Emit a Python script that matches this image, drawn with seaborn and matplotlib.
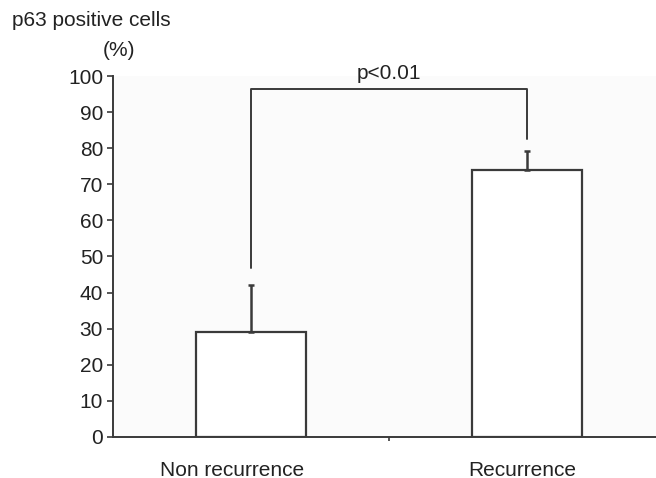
import matplotlib
matplotlib.use("Agg")
import matplotlib.pyplot as plt
import matplotlib.transforms as mtransforms
import seaborn as sns
import pandas as pd

groups = ["Non recurrence", "Recurrence"]
means = [29, 74]
sd_up = [13.2, 5.3]
bracket_top = 96.4
bracket_leg_ends = [46.9, 82.5]
p_text = "p<0.01"

sns.set_style("ticks")
plt.rcParams["font.family"] = ["Liberation Sans", "DejaVu Sans"]

df = pd.DataFrame({"group": groups, "pct": means})
line_col = "#3a3a3a"
fs = 15

fig = plt.figure(figsize=(6.56, 4.78), dpi=100)
ax = fig.add_axes([0.172, 0.086, 0.842, 0.755])
ax.set_facecolor("#fbfbfb")

sns.barplot(data=df, x="group", y="pct", color="white", edgecolor=line_col,
            linewidth=1.6, width=0.4, errorbar=None, ax=ax)
ax.errorbar(range(len(groups)), means, yerr=[[0] * len(groups), sd_up],
            fmt="none", ecolor=line_col, elinewidth=1.8, capsize=2.5, capthick=1.8)

# significance bracket
ax.plot([0, 0, 1, 1], [bracket_leg_ends[0], bracket_top, bracket_top, bracket_leg_ends[1]],
        color=line_col, lw=1.4)
ax.text(0.5, bracket_top + 1.6, p_text, ha="center", va="bottom", fontsize=fs, color="#222222")

ax.set_ylim(0, 100)
ax.set_xlim(-0.5, 1.5)
ax.set_yticks(range(0, 101, 10))
ax.tick_params(axis="y", labelsize=fs, length=4, width=1.2, color=line_col, pad=3,
               labelcolor="#222222")
ax.tick_params(axis="x", labelsize=fs, length=0, pad=17, labelcolor="#222222")
ax.set_xticks([0.5], minor=True)
ax.tick_params(axis="x", which="minor", length=3, width=1.2, color=line_col, direction="out")
ax.set_xlabel("")
ax.set_ylabel("")

# first category label sits a bit left of its bar
off = mtransforms.ScaledTranslation(-19 / 100, 0, fig.dpi_scale_trans)
lab0 = ax.get_xticklabels()[0]
lab0.set_transform(lab0.get_transform() + off)
off1 = mtransforms.ScaledTranslation(-5 / 100, 0, fig.dpi_scale_trans)
lab1 = ax.get_xticklabels()[1]
lab1.set_transform(lab1.get_transform() + off1)

sns.despine(ax=ax, top=True, right=True)
for s in ["left", "bottom"]:
    ax.spines[s].set_color(line_col)
    ax.spines[s].set_linewidth(1.4)

fig.text(12 / 656, 1 - 20 / 478, "p63 positive cells", ha="left", va="center",
         fontsize=fs, color="#222222")
fig.text(119 / 656, 1 - 51 / 478, "(%)", ha="center", va="center", fontsize=fs,
         color="#222222")

fig.savefig("out.png", dpi=100, facecolor="white")
